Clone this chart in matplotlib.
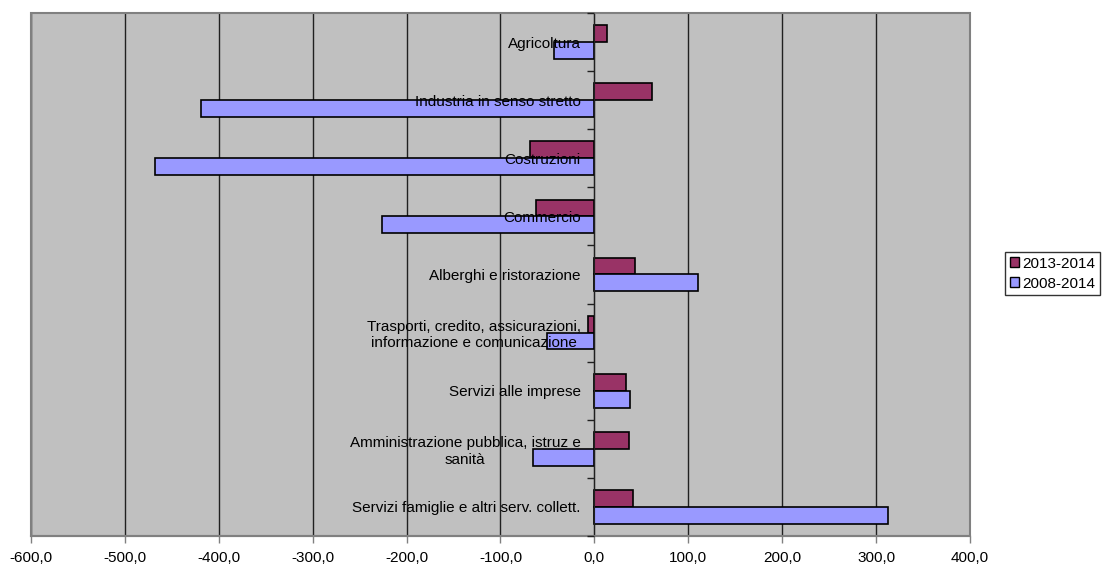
import numpy as np
import matplotlib
matplotlib.use("Agg")
import matplotlib.pyplot as plt
from matplotlib.patches import Rectangle
from matplotlib.ticker import FixedLocator, FuncFormatter

plt.rcParams['font.family'] = ['Liberation Sans', 'DejaVu Sans']

categories = [
    "Agricoltura",
    "Industria in senso stretto",
    "Costruzioni",
    "Commercio",
    "Alberghi e ristorazione",
    "Trasporti, credito, assicurazioni,\ninformazione e comunicazione",
    "Servizi alle imprese",
    "Amministrazione pubblica, istruz e\nsanità",
    "Servizi famiglie e altri serv. collett.",
]
series_names = ["2013-2014", "2008-2014"]
v_2013_2014 = [13, 61, -69, -62, 43, -7, 34, 37, 41]
v_2008_2014 = [-43, -419, -468, -226, 110, -50, 38, -65, 313]
x_ticks = [-600, -500, -400, -300, -200, -100, 0, 100, 200, 300, 400]

c1 = "#993366"
c2 = "#9999FF"
fs = 11

W, H = 1102, 566
fig = plt.figure(figsize=(W / 100, H / 100), dpi=100)
left, right, top, bottom = 31, 970, 13, 536
ax = fig.add_axes([left / W, (H - bottom) / H, (right - left) / W, (bottom - top) / H])
ax.set_facecolor("#C0C0C0")

n = len(categories)
y = np.arange(n)
h = 0.29
ax.barh(y - h / 2, v_2013_2014, height=h, color=c1, edgecolor="black", linewidth=1.2,
        label=series_names[0], zorder=2)
ax.barh(y + h / 2, v_2008_2014, height=h, color=c2, edgecolor="black", linewidth=1.2,
        label=series_names[1], zorder=2)

ax.set_xlim(x_ticks[0], x_ticks[-1])
ax.set_ylim(n - 0.5, -0.5)

ax.xaxis.set_major_locator(FixedLocator(x_ticks))
ax.xaxis.set_major_formatter(FuncFormatter(lambda v, p: f"{v:.1f}".replace(".", ",")))
ax.set_axisbelow(True)
ax.grid(axis="x", color="#202020", linewidth=1.0)
ax.tick_params(axis="x", direction="out", length=5, width=1, color="#808080",
               labelsize=fs, pad=6)

# y axis at 0, labels drawn over bars
ax.spines["left"].set_position(("data", 0))
ax.spines["left"].set_color("#202020")
ax.spines["left"].set_zorder(2.6)
ax.yaxis.set_zorder(3)
ax.set_yticks(y)
ax.set_yticklabels(categories, fontsize=fs, multialignment="center")
ax.set_yticks(np.arange(n + 1) - 0.5, minor=True)
ax.tick_params(axis="y", which="major", length=0, pad=10)
ax.tick_params(axis="y", which="minor", length=5, width=1, color="#202020", direction="out")

for s in ["top", "right"]:
    ax.spines[s].set_visible(False)
ax.spines["bottom"].set_color("#808080")
ax.spines["bottom"].set_linewidth(1.5)
ax.add_patch(Rectangle((0, 0), 1, 1, transform=ax.transAxes, fill=False,
                       edgecolor="#808080", linewidth=1.5, zorder=3, clip_on=False))

leg = fig.legend(loc="upper left", bbox_to_anchor=(1005 / W, 1 - 252 / H),
                 fontsize=fs, frameon=True, fancybox=False, edgecolor="black",
                 handlelength=0.6, handleheight=0.6, handletextpad=0.25,
                 labelspacing=0.4, borderpad=0.3, borderaxespad=0)
leg.get_frame().set_linewidth(1.0)
for p in leg.get_patches():
    p.set_linewidth(1.0)

fig.savefig("out.png", dpi=100)
